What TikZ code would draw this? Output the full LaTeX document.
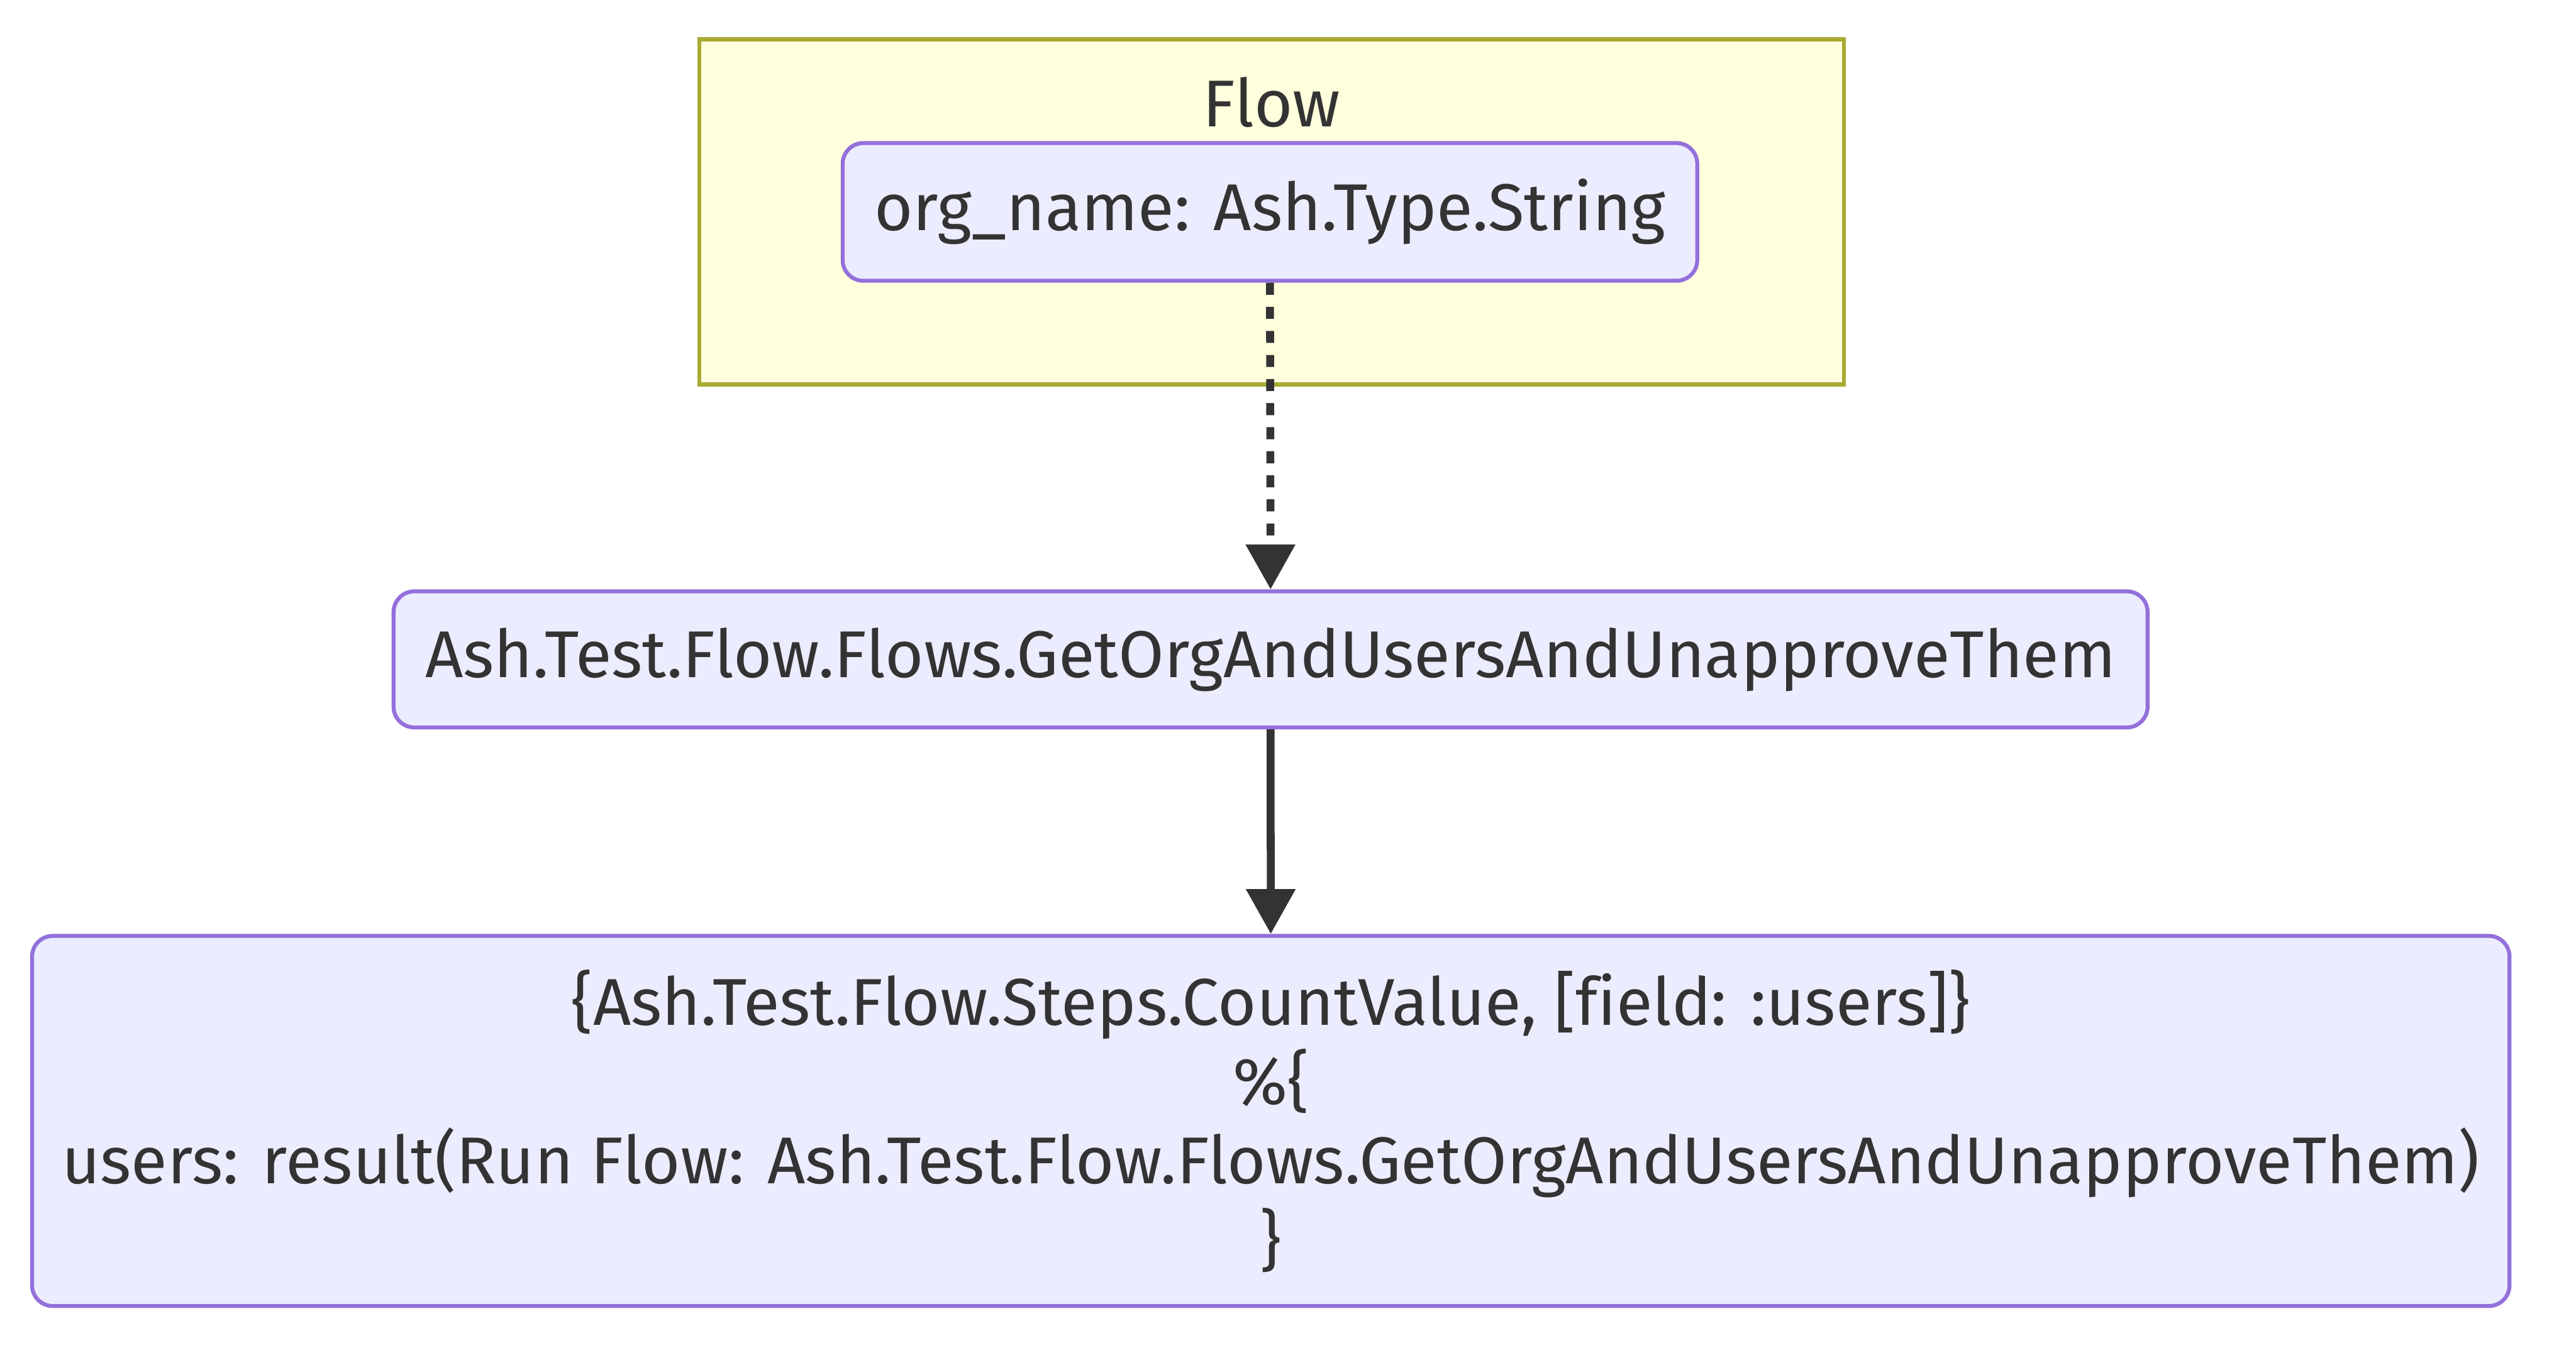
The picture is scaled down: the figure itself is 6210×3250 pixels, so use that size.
\documentclass[tikz,border=0pt]{standalone}
\usepackage{fontspec}
\setmainfont{Fira Sans}[Ligatures=NoCommon]
\usetikzlibrary{arrows.meta}
\definecolor{nodefill}{HTML}{ECECFF}
\definecolor{nodestroke}{HTML}{9370DB}
\definecolor{clusterfill}{HTML}{FFFFDE}
\definecolor{clusterstroke}{HTML}{AAAA33}
\definecolor{txt}{HTML}{333333}
\tikzset{
  flownode/.style={draw=nodestroke, fill=nodefill, line width=2.7pt, rounded corners=0.5cm,
    text=txt, inner sep=0pt, align=center, font=\fontsize{45.4}{54.5}\selectfont},
  cluster/.style={draw=clusterstroke, fill=clusterfill, line width=2.7pt, inner sep=0pt},
  lbl/.style={text=txt, inner sep=0pt, font=\fontsize{45.4}{54.5}\selectfont},
  edge/.style={draw=txt, line width=5.4pt, -{Triangle[length=1.08cm,width=1.15cm]}, color=txt},
}
\begin{document}
\begin{tikzpicture}[x=0.01cm,y=-0.01cm]
\useasboundingbox[fill=white] (0,0) rectangle (6210,3250);
\node[cluster, minimum width=27.57cm, minimum height=8.32cm] (flow) at (3065.5,511) {};
\node[lbl, anchor=center] (flowlbl) at (3065.5,246) {Flow};
\node[flownode, minimum width=20.59cm, minimum height=3.32cm] (org) at (3061.5,511) {org\_name: Ash.Type.String};
\node[flownode, minimum width=42.26cm, minimum height=3.28cm] (run) at (3063,1590) {Ash.Test.Flow.Flows.GetOrgAndUsersAndUnapproveThem};
\node[flownode, minimum width=59.69cm, minimum height=8.92cm] (count) at (3063.5,2703)
  {\{Ash.Test.Flow.Steps.CountValue, [field: :users]\}\\ \%\{\\ users: result(Run Flow: Ash.Test.Flow.Flows.GetOrgAndUsersAndUnapproveThem)\\ \}};
\draw[edge, dash pattern=on 0.29cm off 0.29cm] (org.south) -- (run.north);
\draw[edge] (run.south) -- (count.north);
\end{tikzpicture}
\end{document}
